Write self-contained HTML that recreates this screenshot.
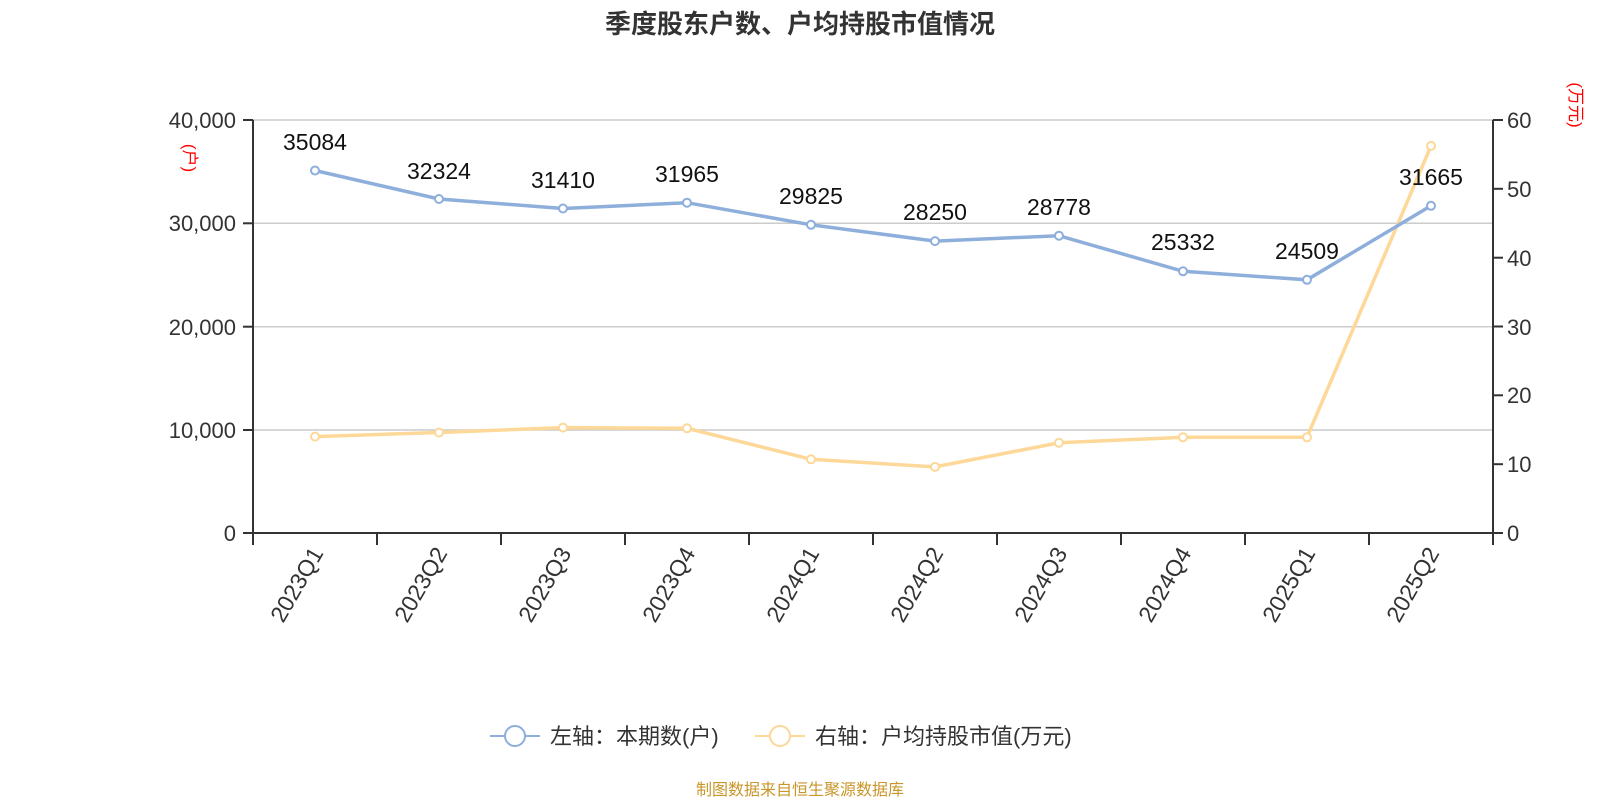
<!DOCTYPE html>
<html><head><meta charset="utf-8"><style>
body{margin:0;background:#fff}
svg{display:block;font-family:"Liberation Sans","Noto Sans CJK SC",sans-serif}
</style></head><body>
<svg width="1600" height="800" viewBox="0 0 1600 800">
<text x="800" y="33" text-anchor="middle" font-size="26" font-weight="bold" fill="#333">季度股东户数、户均持股市值情况</text>
<g stroke="#ccc" stroke-width="1.5">
<line x1="253" y1="120" x2="1493" y2="120"/>
<line x1="253" y1="223.3" x2="1493" y2="223.3"/>
<line x1="253" y1="326.7" x2="1493" y2="326.7"/>
<line x1="253" y1="430" x2="1493" y2="430"/>
</g>
<g stroke="#333" stroke-width="2">
<line x1="253" y1="120" x2="253" y2="533"/>
<line x1="1493" y1="120" x2="1493" y2="545"/>
<line x1="253" y1="533" x2="1493" y2="533"/>
<line x1="243" y1="120" x2="253" y2="120"/><line x1="243" y1="223.3" x2="253" y2="223.3"/><line x1="243" y1="326.7" x2="253" y2="326.7"/><line x1="243" y1="430" x2="253" y2="430"/><line x1="243" y1="533" x2="253" y2="533"/>
<line x1="1493" y1="120" x2="1503" y2="120"/><line x1="1493" y1="188.8" x2="1503" y2="188.8"/><line x1="1493" y1="257.7" x2="1503" y2="257.7"/><line x1="1493" y1="326.5" x2="1503" y2="326.5"/><line x1="1493" y1="395.3" x2="1503" y2="395.3"/><line x1="1493" y1="464.2" x2="1503" y2="464.2"/><line x1="1493" y1="533" x2="1503" y2="533"/>
<line x1="253" y1="533" x2="253" y2="545"/><line x1="377" y1="533" x2="377" y2="545"/><line x1="501" y1="533" x2="501" y2="545"/><line x1="625" y1="533" x2="625" y2="545"/><line x1="749" y1="533" x2="749" y2="545"/><line x1="873" y1="533" x2="873" y2="545"/><line x1="997" y1="533" x2="997" y2="545"/><line x1="1121" y1="533" x2="1121" y2="545"/><line x1="1245" y1="533" x2="1245" y2="545"/><line x1="1369" y1="533" x2="1369" y2="545"/>
</g>
<g font-size="22" fill="#333" text-anchor="end">
<text x="236" y="128">40,000</text><text x="236" y="231">30,000</text><text x="236" y="335">20,000</text><text x="236" y="438">10,000</text><text x="236" y="541">0</text>
</g>
<g font-size="22" fill="#333">
<text x="1507" y="128">60</text><text x="1507" y="197">50</text><text x="1507" y="266">40</text><text x="1507" y="335">30</text><text x="1507" y="403">20</text><text x="1507" y="472">10</text><text x="1507" y="541">0</text>
</g>
<text transform="translate(184,158) rotate(90)" font-size="17" fill="red" text-anchor="middle">(户)</text>
<text transform="translate(1570,105) rotate(90)" font-size="17" fill="red" text-anchor="middle">(万元)</text>
<g font-size="23" fill="#333" text-anchor="end">
<text transform="translate(324,553) rotate(-60)">2023Q1</text>
<text transform="translate(448,553) rotate(-60)">2023Q2</text>
<text transform="translate(572,553) rotate(-60)">2023Q3</text>
<text transform="translate(696,553) rotate(-60)">2023Q4</text>
<text transform="translate(820,553) rotate(-60)">2024Q1</text>
<text transform="translate(944,553) rotate(-60)">2024Q2</text>
<text transform="translate(1068,553) rotate(-60)">2024Q3</text>
<text transform="translate(1192,553) rotate(-60)">2024Q4</text>
<text transform="translate(1316,553) rotate(-60)">2025Q1</text>
<text transform="translate(1440,553) rotate(-60)">2025Q2</text>
</g>
<polyline fill="none" stroke="#fdd898" stroke-width="3.5" points="315,436.6 439,432.5 563,427.6 687,428.3 811,459.3 935,466.9 1059,442.8 1183,437.3 1307,437.3 1431,145.9"/>
<g fill="#fff" stroke="#fdd898" stroke-width="2">
<circle cx="315" cy="436.6" r="4"/><circle cx="439" cy="432.5" r="4"/><circle cx="563" cy="427.6" r="4"/><circle cx="687" cy="428.3" r="4"/><circle cx="811" cy="459.3" r="4"/><circle cx="935" cy="466.9" r="4"/><circle cx="1059" cy="442.8" r="4"/><circle cx="1183" cy="437.3" r="4"/><circle cx="1307" cy="437.3" r="4"/><circle cx="1431" cy="145.9" r="4"/>
</g>
<polyline fill="none" stroke="#8eaedb" stroke-width="3.5" points="315,170.5 439,199 563,208.5 687,202.7 811,224.8 935,241.1 1059,235.7 1183,271.3 1307,279.8 1431,205.8"/>
<g fill="#fff" stroke="#8eaedb" stroke-width="2">
<circle cx="315" cy="170.5" r="4"/><circle cx="439" cy="199" r="4"/><circle cx="563" cy="208.5" r="4"/><circle cx="687" cy="202.7" r="4"/><circle cx="811" cy="224.8" r="4"/><circle cx="935" cy="241.1" r="4"/><circle cx="1059" cy="235.7" r="4"/><circle cx="1183" cy="271.3" r="4"/><circle cx="1307" cy="279.8" r="4"/><circle cx="1431" cy="205.8" r="4"/>
</g>
<g font-size="23" fill="#111" text-anchor="middle">
<text x="315" y="150">35084</text><text x="439" y="179">32324</text><text x="563" y="188">31410</text><text x="687" y="182">31965</text><text x="811" y="204">29825</text><text x="935" y="220">28250</text><text x="1059" y="215">28778</text><text x="1183" y="250">25332</text><text x="1307" y="259">24509</text><text x="1431" y="185">31665</text>
</g>
<g>
<line x1="490" y1="736" x2="540" y2="736" stroke="#8eaedb" stroke-width="2"/>
<circle cx="515" cy="736" r="10" fill="#fff" stroke="#8eaedb" stroke-width="2"/>
<text x="550" y="744" font-size="22" fill="#333">左轴：本期数(户)</text>
<line x1="755" y1="736" x2="805" y2="736" stroke="#fdd898" stroke-width="2"/>
<circle cx="780" cy="736" r="10" fill="#fff" stroke="#fdd898" stroke-width="2"/>
<text x="815" y="744" font-size="22" fill="#333">右轴：户均持股市值(万元)</text>
</g>
<text x="800" y="795" text-anchor="middle" font-size="16" fill="#c8962a">制图数据来自恒生聚源数据库</text>
</svg>
</body></html>
